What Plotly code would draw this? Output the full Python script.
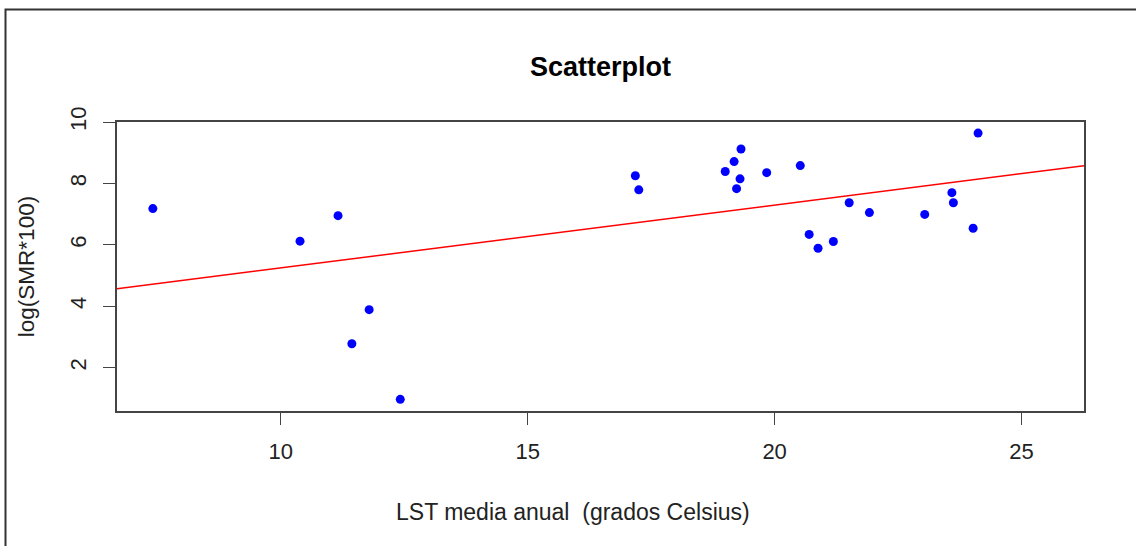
import plotly.graph_objects as go

# Mean annual land surface temperature (°C) and log(SMR*100) per area
lst_media = [7.41, 10.39, 11.16, 11.44, 11.79, 12.42, 17.18, 17.25, 19.00, 19.18,
             19.32, 19.30, 19.23, 19.84, 20.52, 21.51, 21.92, 20.70, 20.88, 21.19,
             23.04, 23.59, 23.62, 24.02, 24.12]
log_smr = [7.18, 6.12, 6.95, 2.78, 3.89, 0.97, 8.25, 7.79, 8.39, 8.71,
           9.12, 8.15, 7.83, 8.35, 8.58, 7.37, 7.05, 6.34, 5.89, 6.11,
           6.99, 7.70, 7.37, 6.54, 9.64]

# Least-squares line coefficients (abline)
fit_intercept = 3.20
fit_slope = 0.2048

x_range = [6.684, 26.265]
y_range = [0.59, 10.0]
x_ticks = [10, 15, 20, 25]
y_ticks = [2, 4, 6, 8, 10]

W, H = 1136, 546
ML, MR, MT, MB = 117, 52, 122, 135

FONT = "Liberation Sans, Arial, sans-serif"
AXIS_COLOR = "#444444"
TEXT_COLOR = "#222222"

fig = go.Figure()

fig.add_trace(go.Scatter(
    x=x_range,
    y=[fit_intercept + fit_slope * v for v in x_range],
    mode="lines",
    line=dict(color="#FF0000", width=1.5),
    hoverinfo="skip",
    showlegend=False,
))

fig.add_trace(go.Scatter(
    x=lst_media, y=log_smr,
    mode="markers",
    marker=dict(color="#0000FF", size=9, line=dict(width=0)),
    showlegend=False,
))

axis_common = dict(
    showgrid=False, zeroline=False,
    showline=True, linecolor=AXIS_COLOR, linewidth=1.5, mirror=True,
    ticks="outside", ticklen=12, tickwidth=1.3, tickcolor=AXIS_COLOR,
    tickfont=dict(family=FONT, size=22, color=TEXT_COLOR),
)

fig.update_xaxes(
    range=x_range, tickvals=x_ticks, ticktext=[str(t) for t in x_ticks],
    ticklabelstandoff=8,
    **axis_common,
)
fig.update_yaxes(
    range=y_range, tickvals=y_ticks, ticktext=[str(t) for t in y_ticks],
    tickangle=-90, ticklabelstandoff=8,
    title=dict(text="log(SMR*100)",
               font=dict(family=FONT, size=22.5, color=TEXT_COLOR), standoff=26),
    **axis_common,
)

pw, ph = W - ML - MR, H - MT - MB

# X axis title
fig.add_annotation(
    text="LST media anual  (grados Celsius)",
    xref="paper", yref="paper",
    x=(573 - ML) / pw, y=(H - MB - 512) / ph,
    xanchor="center", yanchor="middle", showarrow=False,
    font=dict(family=FONT, size=23, color=TEXT_COLOR),
)

# Outer frame around the whole figure
fig.add_shape(
    type="rect", xref="paper", yref="paper",
    x0=(5.5 - ML) / pw, x1=(W + 10 - ML) / pw,
    y0=-(H + 10 - MT - ph) / ph, y1=(H - MB - 9.5) / ph,
    line=dict(color="#333333", width=2), fillcolor="rgba(0,0,0,0)",
    layer="above",
)

fig.update_layout(
    width=W, height=H,
    margin=dict(l=ML, r=MR, t=MT, b=MB),
    paper_bgcolor="white", plot_bgcolor="white",
    title=dict(text="<b>Scatterplot</b>", x=0.5, xref="paper",
               y=1 - 67 / H, yanchor="middle",
               font=dict(family=FONT, size=27, color="#000000")),
)

fig.write_html("out.html")
